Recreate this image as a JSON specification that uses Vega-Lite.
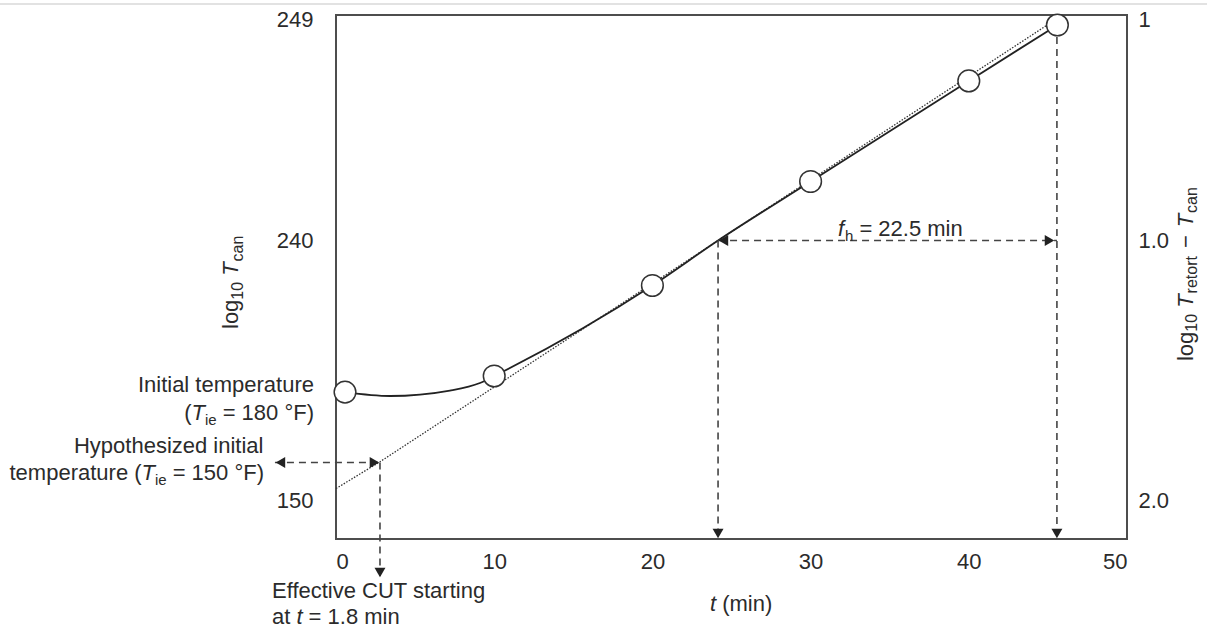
{
  "$schema": "https://vega.github.io/schema/vega-lite/v6.json",
  "width": 791,
  "height": 524,
  "autosize": {"type": "none"},
  "padding": {"left": 336, "top": 15, "right": 87, "bottom": 92},
  "background": "white",
  "config": {
    "font": "Liberation Sans",
    "view": {"stroke": "#4d4d4d", "strokeWidth": 2},
    "axis": {"grid": false, "domain": false, "ticks": false, "tickSize": 0, "labelFont": "Liberation Sans", "labelFontSize": 22, "labelColor": "#2b2b2b"}
  },
  "datasets": {
    "circles": [
      {"t": 0.57, "L": 1.583}, {"t": 10, "L": 1.521}, {"t": 20, "L": 1.173},
      {"t": 30, "L": 0.733}, {"t": 40, "L": 0.278}, {"t": 45.6, "L": 0.025}
    ],
    "curve": [
      {"t": 0.57, "L": 1.583}, {"t": 3.41, "L": 1.598}, {"t": 7.2, "L": 1.577}, {"t": 9.1, "L": 1.548},
      {"t": 10, "L": 1.521}, {"t": 20, "L": 1.173}, {"t": 24.15, "L": 1.0}, {"t": 30, "L": 0.733},
      {"t": 40, "L": 0.278}, {"t": 45.6, "L": 0.025}
    ],
    "dotted": [
      {"t": 0, "L": 1.954}, {"t": 2.78, "L": 1.851}, {"t": 24.15, "L": 1.0}, {"t": 45.64, "L": -0.007}
    ],
    "border": [
      {"t": -21.24, "t2": 55.06, "L": -0.07, "L2": -0.07}
    ],
    "dashed": [
      {"t": -3.86, "t2": 2.78, "L": 1.854, "L2": 1.854},
      {"t": 2.78, "t2": 2.78, "L": 1.854, "L2": 2.29},
      {"t": 24.15, "t2": 24.15, "L": 1.0, "L2": 2.13},
      {"t": 45.57, "t2": 45.57, "L": 0.025, "L2": 2.13},
      {"t": 24.15, "t2": 45.57, "L": 1.0, "L2": 1.0}
    ],
    "arrow_down": [{"t": 2.78, "L": 2.277}, {"t": 24.15, "L": 2.127}, {"t": 45.57, "L": 2.127}],
    "arrow_left": [{"t": -3.51, "L": 1.854}, {"t": 24.49, "L": 1.0}],
    "arrow_right": [{"t": 2.43, "L": 1.854}, {"t": 45.1, "L": 1.0}],
    "txt_l": [
      {"s": "(", "t": -9.595, "L": 1.6904},
      {"s": "temperature (", "t": -20.638, "L": 1.9212},
      {"s": "Effective CUT starting", "t": -4.046, "L": 2.375},
      {"s": "at", "t": -4.046, "L": 2.475},
      {"s": "= 1.8 min", "t": -1.732, "L": 2.475},
      {"s": "(min)", "t": 24.412, "L": 2.425},
      {"s": "= 22.5 min", "t": 33.085, "L": 0.9796}
    ],
    "txt_r": [
      {"s": "Initial temperature", "t": -1.391, "L": 1.5815},
      {"s": "= 180 °F)", "t": -1.391, "L": 1.6904},
      {"s": "Hypothesized initial", "t": -4.583, "L": 1.8173},
      {"s": "= 150 °F)", "t": -4.551, "L": 1.9212}
    ],
    "txt_i": [
      {"s": "T", "t": -9.134, "L": 1.6904},
      {"s": "T", "t": -12.295, "L": 1.9212},
      {"s": "t", "t": -2.503, "L": 2.475},
      {"s": "t", "t": 23.641, "L": 2.425},
      {"s": "f", "t": 31.732, "L": 0.9796}
    ],
    "txt_s": [
      {"s": "ie", "t": -8.287, "L": 1.7077},
      {"s": "ie", "t": -11.448, "L": 1.9385},
      {"s": "h", "t": 32.174, "L": 1.0}
    ],
    "rot_m": [
      {"s": "log", "t": -6.195, "L": 1.3404},
      {"s": "log", "t": 54.172, "L": 1.4635},
      {"s": "−", "t": 54.172, "L": 1.0292}
    ],
    "rot_i": [
      {"s": "T", "t": -6.195, "L": 1.1358},
      {"s": "T", "t": 54.172, "L": 1.2588},
      {"s": "T", "t": 54.172, "L": 0.9403}
    ],
    "rot_s": [
      {"s": "10", "t": -5.91, "L": 1.2277},
      {"s": "can", "t": -5.91, "L": 1.0804},
      {"s": "10", "t": 54.456, "L": 1.3508},
      {"s": "retort", "t": 54.456, "L": 1.2035},
      {"s": "can", "t": 54.456, "L": 0.8751}
    ]
  },
  "layer": [
    {
      "layer": [
        {
          "data": {"name": "dotted"},
          "mark": {"type": "line", "color": "#333333", "strokeWidth": 1.3, "strokeDash": [1.5, 1.5]},
          "encoding": {
            "x": {"field": "t", "type": "quantitative", "scale": {"domain": [0, 50], "nice": false, "zero": false},
                  "axis": {"values": [0, 10, 20, 30, 40, 50], "labelPadding": 12, "title": null, "labelFontSize": 22}},
            "y": {"field": "L", "type": "quantitative",
                  "scale": {"domain": [-0.0204, 1, 2.148], "range": [0, 225.5, 524], "nice": false, "zero": false},
                  "axis": {"values": [0, 1, 2], "labelExpr": "format(250 - pow(10, datum.value), 'd')", "labelPadding": 23, "title": null, "labelFontSize": 22}}
          }
        },
        {
          "data": {"name": "border"},
          "mark": {"type": "rule", "color": "#d9d9d9", "strokeWidth": 1.5},
          "encoding": {
            "x": {"field": "t", "type": "quantitative"}, "x2": {"field": "t2"},
            "y": {"field": "L", "type": "quantitative"}, "y2": {"field": "L2"}
          }
        },
        {
          "data": {"name": "curve"},
          "mark": {"type": "line", "color": "#222222", "strokeWidth": 1.8, "interpolate": "monotone"},
          "encoding": {"x": {"field": "t", "type": "quantitative"}, "y": {"field": "L", "type": "quantitative"}}
        },
        {
          "data": {"name": "dashed"},
          "mark": {"type": "rule", "color": "#444444", "strokeWidth": 1.6, "strokeDash": [7, 5]},
          "encoding": {
            "x": {"field": "t", "type": "quantitative"}, "x2": {"field": "t2"},
            "y": {"field": "L", "type": "quantitative"}, "y2": {"field": "L2"}
          }
        },
        {
          "data": {"name": "arrow_down"},
          "mark": {"type": "point", "shape": "triangle-down", "filled": true, "size": 120, "color": "#222222", "opacity": 1},
          "encoding": {"x": {"field": "t", "type": "quantitative"}, "y": {"field": "L", "type": "quantitative"}}
        },
        {
          "data": {"name": "arrow_left"},
          "mark": {"type": "point", "shape": "triangle-left", "filled": true, "size": 120, "color": "#222222", "opacity": 1},
          "encoding": {"x": {"field": "t", "type": "quantitative"}, "y": {"field": "L", "type": "quantitative"}}
        },
        {
          "data": {"name": "arrow_right"},
          "mark": {"type": "point", "shape": "triangle-right", "filled": true, "size": 120, "color": "#222222", "opacity": 1},
          "encoding": {"x": {"field": "t", "type": "quantitative"}, "y": {"field": "L", "type": "quantitative"}}
        },
        {
          "data": {"name": "circles"},
          "mark": {"type": "point", "shape": "circle", "filled": true, "fill": "white", "stroke": "#333333", "strokeWidth": 1.5, "size": 470, "opacity": 1},
          "encoding": {"x": {"field": "t", "type": "quantitative"}, "y": {"field": "L", "type": "quantitative"}}
        },
        {
          "data": {"name": "txt_l"},
          "mark": {"type": "text", "align": "left", "baseline": "alphabetic", "fontSize": 22, "color": "#2b2b2b"},
          "encoding": {"x": {"field": "t", "type": "quantitative"}, "y": {"field": "L", "type": "quantitative"}, "text": {"field": "s"}}
        },
        {
          "data": {"name": "txt_r"},
          "mark": {"type": "text", "align": "right", "baseline": "alphabetic", "fontSize": 22, "color": "#2b2b2b"},
          "encoding": {"x": {"field": "t", "type": "quantitative"}, "y": {"field": "L", "type": "quantitative"}, "text": {"field": "s"}}
        },
        {
          "data": {"name": "txt_i"},
          "mark": {"type": "text", "align": "left", "baseline": "alphabetic", "fontSize": 22, "fontStyle": "italic", "color": "#2b2b2b"},
          "encoding": {"x": {"field": "t", "type": "quantitative"}, "y": {"field": "L", "type": "quantitative"}, "text": {"field": "s"}}
        },
        {
          "data": {"name": "txt_s"},
          "mark": {"type": "text", "align": "left", "baseline": "alphabetic", "fontSize": 15, "color": "#2b2b2b"},
          "encoding": {"x": {"field": "t", "type": "quantitative"}, "y": {"field": "L", "type": "quantitative"}, "text": {"field": "s"}}
        },
        {
          "data": {"name": "rot_m"},
          "mark": {"type": "text", "align": "left", "baseline": "alphabetic", "fontSize": 22, "angle": 270, "color": "#2b2b2b"},
          "encoding": {"x": {"field": "t", "type": "quantitative"}, "y": {"field": "L", "type": "quantitative"}, "text": {"field": "s"}}
        },
        {
          "data": {"name": "rot_i"},
          "mark": {"type": "text", "align": "left", "baseline": "alphabetic", "fontSize": 22, "angle": 270, "fontStyle": "italic", "color": "#2b2b2b"},
          "encoding": {"x": {"field": "t", "type": "quantitative"}, "y": {"field": "L", "type": "quantitative"}, "text": {"field": "s"}}
        },
        {
          "data": {"name": "rot_s"},
          "mark": {"type": "text", "align": "left", "baseline": "alphabetic", "fontSize": 16, "angle": 270, "color": "#2b2b2b"},
          "encoding": {"x": {"field": "t", "type": "quantitative"}, "y": {"field": "L", "type": "quantitative"}, "text": {"field": "s"}}
        }
      ]
    },
    {
      "data": {"name": "circles"},
      "mark": {"type": "point", "opacity": 0},
      "encoding": {
        "x": {"field": "t", "type": "quantitative"},
        "y": {"field": "L", "type": "quantitative",
              "scale": {"domain": [-0.0204, 1, 2.148], "range": [0, 225.5, 524], "nice": false, "zero": false},
              "axis": {"orient": "right", "values": [0, 1, 2], "labelExpr": "datum.value == 0 ? '1' : format(datum.value, '.1f')", "labelPadding": 11, "title": null, "labelFontSize": 22}}
      }
    }
  ],
  "resolve": {"scale": {"y": "independent"}}
}
